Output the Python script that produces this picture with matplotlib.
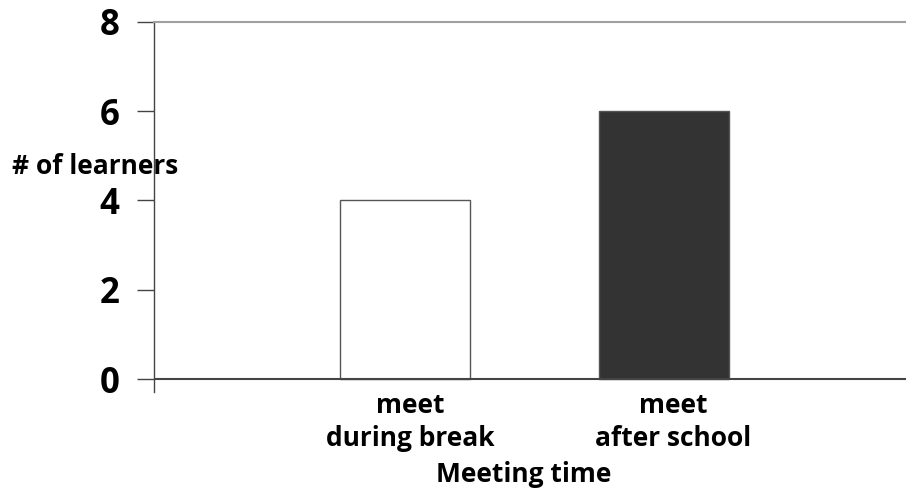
import matplotlib
matplotlib.use("Agg")
import matplotlib.pyplot as plt
import matplotlib.transforms as mtransforms

categories = ["meet\nduring break", "meet\nafter school"]
values = [4, 6]
bar_colors = ["#ffffff", "#333333"]
yticks = [0, 2, 4, 6, 8]
ylabel = "# of learners"
xlabel = "Meeting time"

plt.rcParams['font.family'] = ['Open Sans', 'DejaVu Sans']
plt.rcParams['font.weight'] = 'bold'

fig = plt.figure(figsize=(9.06, 4.88), dpi=100)
ax = fig.add_axes([154/906, 1-392/488, 1-154/906, (392-21.7)/488])

x = list(range(len(categories)))
ax.bar(x, values, width=0.503, color=bar_colors, edgecolor="#555555", linewidth=1.0, zorder=3)

ax.set_xlim(-0.971, 1.938)
ax.set_ylim(-0.291, 8)
ax.set_yticks(yticks)
ax.set_yticklabels([str(t) for t in yticks], fontsize=25, fontweight='bold')
ax.tick_params(axis='y', length=12, width=1.0, color="#444444", pad=13)
ax.set_xticks(x)
ax.set_xticklabels(categories, fontsize=19, fontweight='bold', linespacing=1.3)
ax.tick_params(axis='x', length=0, pad=0)
for lbl, dx in zip(ax.get_xticklabels(), [5, 10]):
    offset = mtransforms.ScaledTranslation(dx/100, 0, fig.dpi_scale_trans)
    lbl.set_transform(lbl.get_transform() + offset)

for s in ["right", "bottom"]:
    ax.spines[s].set_visible(False)
ax.spines["top"].set_color("#a0a0a0")
ax.spines["top"].set_linewidth(1.5)
ax.spines["left"].set_color("#444444")
ax.spines["left"].set_linewidth(1.0)
ax.axhline(0, color="#444444", linewidth=1.5, zorder=4)

fig.text(12/906, 1-167/488, ylabel, fontsize=19, fontweight='bold', ha='left', va='center')
fig.text(524/906, 1-474/488, xlabel, fontsize=19, fontweight='bold', ha='center', va='center')

fig.savefig("out.png", dpi=100)
